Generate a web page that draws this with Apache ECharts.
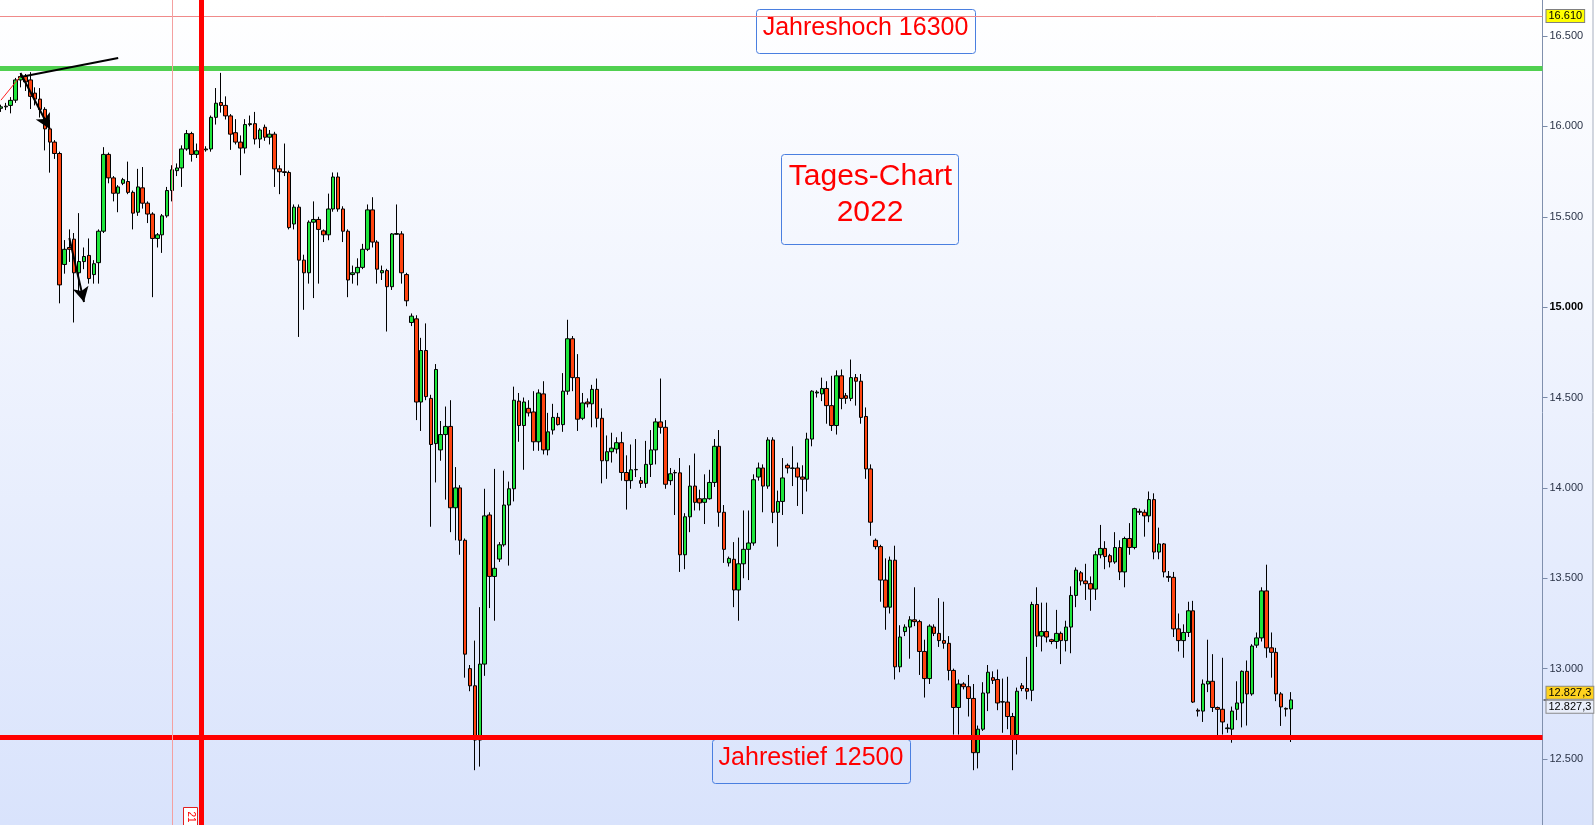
<!DOCTYPE html>
<html><head><meta charset="utf-8">
<script src="https://cdn.jsdelivr.net/npm/echarts@6/dist/echarts.min.js"></script>
<style>html,body{margin:0;padding:0;background:#fff}#c{width:1595px;height:825px}</style>
</head><body><div id="c"></div>
<script>
// ---- data (daily candles) ----
const openVals = [16100,16108,16116,16145,16257,16276,16257,16184,16151,16094,
15986,15913,15850,15236,15330,15376,15190,15252,15286,15180,
15246,15420,15845,15715,15630,15685,15695,15635,15525,15660,
15575,15515,15380,15400,15505,15645,15755,15770,15875,15960,
15845,15865,15870,15875,16050,16132,16116,16058,15965,15913,
15880,16010,16015,15930,15995,15940,15957,15765,15749,15745,
15460,15553,15260,15190,15470,15485,15422,15400,15543,15720,
15543,15420,15180,15190,15220,15320,15538,15360,15190,15202,
15113,15403,15405,15180,14915,14935,14475,14760,14495,14245,
14210,14295,14340,13890,14000,13710,13000,12905,12605,13025,
13850,13510,13606,13685,13905,13995,14480,14345,14440,14420,
14255,14520,14210,14320,14390,14350,14535,14825,14610,14385,
14475,14465,14545,14385,14150,14200,14215,14250,14085,14040,
14100,14040,14025,14130,14210,14365,14335,14040,14083,14083,
13630,13840,14010,13940,13920,13940,14030,14230,13865,13585,
13605,13435,13580,13660,13695,14060,14110,14010,14265,13865,
13925,14125,14108,14110,14060,14048,14270,14525,14520,14550,
14455,14345,14620,14510,14495,14610,14590,14395,14105,13710,
13675,13490,13340,13600,13010,13205,13230,13270,13260,13095,
12945,13230,13195,13155,13140,12990,12785,12915,12900,12835,
12535,12665,12865,12950,12940,12815,12815,12735,12635,12905,
12890,12880,13355,13180,13205,13160,13150,13195,13155,13230,
13405,13530,13485,13470,13440,13630,13665,13625,13590,13670,
13535,13720,13670,13870,13865,13845,13935,13645,13690,13510,
13505,13220,13155,13200,13320,12770,12765,12915,12930,12785,
12775,12668,12665,12775,12810,12985,12860,13130,13170,13430,
13115,13090,12860,12780,12777];
const closeVals = [16108,16112,16144,16257,16276,16246,16166,16151,16094,15986,
15913,15850,15123,15320,15320,15190,15252,15280,15158,15240,
15420,15845,15715,15630,15665,15705,15635,15520,15665,15575,
15515,15380,15400,15505,15645,15760,15770,15875,15960,15845,
15865,15870,15875,16050,16128,16116,16058,15957,15913,15880,
16010,16015,15930,15980,15940,15957,15765,15749,15745,15440,
15553,15260,15190,15470,15485,15430,15400,15543,15720,15543,
15420,15150,15190,15220,15320,15538,15360,15210,15202,15113,
15405,15407,15190,15035,14950,14475,14760,14505,14240,14655,
14295,14340,13890,14000,13710,13080,12905,12605,13025,13845,
13510,13555,13685,13905,13995,14485,14345,14475,14415,14255,
14525,14210,14310,14390,14350,14535,14825,14610,14380,14470,
14465,14545,14385,14150,14200,14220,14250,14085,14040,14100,
14102,14025,14130,14210,14365,14335,14020,14078,14085,13630,
13840,14010,13920,13917,13940,14030,14230,13865,13660,13610,
13435,13580,13660,13695,14045,14110,14010,14265,13865,13925,
14055,14110,14110,14060,14048,14270,14535,14530,14550,14455,
14345,14620,14495,14495,14610,14590,14390,14105,13810,13675,
13490,13340,13600,13010,13175,13230,13270,13260,13095,12945,
13235,13195,13155,13140,12990,12785,12915,12900,12835,12535,
12665,12865,12980,12935,12810,12817,12735,12620,12875,12890,
12875,13355,13180,13205,13175,13150,13195,13155,13230,13405,
13545,13485,13470,13440,13630,13665,13620,13590,13670,13535,
13720,13670,13885,13865,13845,13935,13645,13690,13535,13505,
13220,13155,13200,13320,12815,12765,12915,12930,12785,12775,
12705,12672,12765,12810,12985,12860,13125,13170,13430,13115,
13090,12860,12788,12776,12827];
const lowVals = [16080,16090,16072,16130,16216,16196,16096,16116,16049,15867,
15744,15820,15021,15185,15250,14915,15085,15210,15130,15130,
15130,15410,15685,15585,15525,15675,15625,15430,15505,15545,
15465,15055,15330,15300,15495,15585,15725,15665,15865,15805,
15825,15845,15860,15860,16010,16076,16038,15870,15900,15730,
15850,16000,15900,15880,15920,15900,15665,15625,15725,15430,
15430,14835,14985,15130,15050,15130,15360,15370,15528,15528,
15360,15055,15130,15120,15210,15310,15330,15130,15150,14865,
15095,15400,15130,15005,14895,14375,14315,14485,13785,14030,
14150,13935,13755,13710,13630,12950,12875,12438,12458,12960,
13335,13265,13590,13675,13570,13925,14255,14100,14395,14205,
14205,14185,14180,14295,14345,14310,14515,14535,14315,14375,
14445,14335,14335,14025,14050,14140,14190,14040,13880,13995,
14060,14000,14000,14060,14130,14300,13995,14015,13850,13535,
13550,13755,13875,13875,13800,13935,14005,13785,13585,13565,
13340,13265,13500,13490,13680,14040,13865,13995,13805,13675,
13850,14080,14010,13900,13855,13980,14230,14500,14480,14355,
14315,14295,14435,14465,14480,14455,14355,14050,13735,13660,
13370,13215,13305,12940,12980,13180,13055,13235,12965,12840,
12915,13180,13120,13110,12935,12635,12635,12885,12735,12438,
12448,12655,12765,12915,12770,12645,12665,12438,12525,12875,
12830,12820,13120,13095,13145,13135,13110,13025,13095,13085,
13340,13460,13380,13320,13380,13610,13550,13560,13580,13490,
13450,13630,13660,13850,13730,13810,13605,13605,13505,13480,
13175,13095,13060,13175,12810,12735,12705,12870,12760,12620,
12635,12645,12590,12715,12675,12685,12850,13115,13150,13060,
12950,12820,12683,12735,12594];
const highVals = [16120,16130,16162,16268,16295,16290,16300,16216,16212,16106,
16036,15924,15860,15371,15430,15410,15520,15330,15380,15260,
15430,15885,15855,15725,15675,15715,15805,15645,15765,15775,
15585,15525,15410,15515,15665,15785,15795,15895,15980,15970,
15905,15890,15890,16060,16212,16296,16166,16068,16040,15950,
16040,16060,16080,15990,16010,15980,15970,15785,15905,15755,
15568,15568,15290,15480,15585,15500,15430,15628,15745,15745,
15558,15430,15230,15270,15350,15568,15608,15370,15230,15212,
15410,15568,15420,15190,14965,14955,14830,14910,14515,14685,
14370,14450,14485,14115,14015,13720,13020,13155,13340,13995,
13865,14105,13700,14095,14035,14560,14525,14500,14485,14535,
14545,14590,14415,14465,14415,14635,14930,14840,14740,14525,
14495,14570,14605,14440,14290,14305,14280,14310,14180,14240,
14270,14060,14260,14320,14385,14605,14375,14110,14100,14165,
13860,14125,14190,13990,14075,14100,14270,14320,13905,13620,
13700,13725,13875,13875,14075,14140,14130,14280,14280,13985,
14165,14135,14230,14140,14125,14305,14540,14540,14610,14590,
14620,14650,14655,14525,14710,14630,14630,14445,14130,13720,
13685,13610,13620,13680,13240,13245,13290,13450,13270,13160,
13245,13245,13390,13370,13180,13000,12940,12925,12965,12915,
12685,12925,13020,12985,12995,12945,12955,12755,12895,12920,
13065,13370,13450,13365,13365,13165,13325,13205,13265,13455,
13560,13540,13580,13510,13650,13795,13705,13635,13755,13710,
13730,13805,13890,13885,13880,13980,13970,13780,13695,13540,
13535,13305,13245,13370,13375,12780,12940,13160,13080,12790,
13060,12695,12790,12930,12990,13045,13135,13200,13450,13575,
13200,13115,12870,12785,12870];
// levels and tick labels
const yearHighLine = 16320, yearLowLine = 12620, topLine = 16610, lastPrice = 12827.3;
const yTicks = [12500,13000,13500,14000,14500,15000,15500,16000,16500];
const slots = 316; // candle slots across the plot width
const categories = Array.from({length: slots}, (_, i) => String(i + 1));
const candleData = openVals.map((o, i) => [o, closeVals[i], lowVals[i], highVals[i]]);

function fmt(v){ const t = Math.floor(v/1000), r = Math.round(v % 1000); return t + '.' + String(r).padStart(3,'0'); }

const chart = echarts.init(document.getElementById('c'), null, {renderer:'canvas'});
const FONT = '"Liberation Sans", Arial, sans-serif';
chart.setOption({
  animation: false,
  backgroundColor: new echarts.graphic.LinearGradient(0,0,0,1,[{offset:0,color:'#ffffff'},{offset:1,color:'#d9e3fc'}]),
  grid: {left: -1.5, right: 52.5, top: -54.375, bottom: -24.375, containLabel: false, outerBoundsMode: 'none'},
  xAxis: {type:'category', data: categories, boundaryGap: true, axisLine:{show:false}, axisTick:{show:false}, axisLabel:{show:false}, splitLine:{show:false}},
  yAxis: {type:'value', position:'right', min:12000, max:17000, interval:500, scale:true,
    axisLine:{show:true, lineStyle:{color:'#8090ad', width:1}},
    axisTick:{show:true, length:5, lineStyle:{color:'#7a8aa8'}},
    splitLine:{show:false},
    axisLabel:{show:true, margin:7, color:'#2a3347', fontSize:11, fontFamily:FONT,
      showMinLabel:false, showMaxLabel:false,
      formatter: v => (yTicks.indexOf(v) < 0 ? '' : (v === 15000 ? '{b|' + fmt(v) + '}' : fmt(v))),
      rich:{b:{fontWeight:'bold', color:'#000', fontSize:11, fontFamily:FONT}}}
  },
  series: [{
    type:'candlestick', data: candleData, barWidth: 4,
    itemStyle:{color:'#1ee63c', color0:'#ff4410', borderColor:'#000', borderColor0:'#000', borderWidth:1},
    markLine: {
      silent:true, symbol:['none','none'], animation:false,
      label:{show:false},
      data: [
        {yAxis: topLine, lineStyle:{color:'#f08a8a', width:1, type:'solid'},
          label:{show:true, position:'end', distance:4, formatter: fmt(topLine), backgroundColor:'#ffff00', borderColor:'#808080', borderWidth:1, padding:[1,2,0,2], color:'#000', fontSize:11, fontFamily:FONT}},
        {yAxis: yearHighLine, lineStyle:{color:'#50d050', width:5, type:'solid'}},
        {yAxis: yearLowLine, lineStyle:{color:'#ff0000', width:5, type:'solid'}},
        {xAxis: 35, lineStyle:{color:'#f4a0a0', width:1, type:'solid'}},
        {xAxis: 41, lineStyle:{color:'#ff0000', width:5, type:'solid'}},
        {yAxis: lastPrice, lineStyle:{color:'rgba(0,0,0,0)', width:1, type:'solid'},
          label:{show:true, position:'end', distance:4, color:'#000', formatter:'{a|12.827,3}\n{b|12.827,3}',
            rich:{a:{backgroundColor:'#ffd21e', borderColor:'#8a8a8a', borderWidth:1, padding:[1,2,0,2], color:'#000', fontSize:11, fontFamily:FONT, lineHeight:14},
                  b:{backgroundColor:'#e9eefa', borderColor:'#8a8a8a', borderWidth:1, padding:[1,2,0,2], color:'#000', fontSize:11, fontFamily:FONT, lineHeight:14}}}},
        [{coord:[0,16145], lineStyle:{color:'#ff2020', width:1, type:'solid'}}, {coord:[4,16278]}],
        [{coord:[4,16273], lineStyle:{color:'#000', width:2, type:'solid'}}, {coord:[24,16378]}],
        [{coord:[4,16295], lineStyle:{color:'#000', width:2, type:'solid'}}, {coord:[10,15985], symbol:'arrow', symbolSize:[12,15]}],
        [{coord:[14,15382], lineStyle:{color:'#000', width:2, type:'solid'}}, {coord:[17,15028], symbol:'arrow', symbolSize:[12,15]}]
      ]
    }
  }],
  graphic: [
    {type:'rect', shape:{x:756.5, y:9.5, width:219, height:44, r:3}, style:{fill:'none', stroke:'#4a7fe0', lineWidth:1}},
    {type:'text', x:865.5, y:28, style:{text:'Jahreshoch 16300', fill:'#ff0000', font:'25px "Liberation Sans", Arial', textAlign:'center', textVerticalAlign:'middle'}},
    {type:'rect', shape:{x:781.5, y:154.5, width:177, height:90, r:3}, style:{fill:'none', stroke:'#4a7fe0', lineWidth:1}},
    {type:'text', x:870.5, y:177, style:{text:'Tages-Chart', fill:'#ff0000', font:'30px "Liberation Sans", Arial', textAlign:'center', textVerticalAlign:'middle'}},
    {type:'text', x:870, y:213, style:{text:'2022', fill:'#ff0000', font:'30px "Liberation Sans", Arial', textAlign:'center', textVerticalAlign:'middle'}},
    {type:'rect', shape:{x:712.5, y:739.5, width:198, height:44, r:3}, style:{fill:'none', stroke:'#4a7fe0', lineWidth:1}},
    {type:'text', x:811, y:758, style:{text:'Jahrestief 12500', fill:'#ff0000', font:'25px "Liberation Sans", Arial', textAlign:'center', textVerticalAlign:'middle'}},
    {type:'rect', shape:{x:183.5, y:807.5, width:14, height:20}, style:{fill:'#ffffff', stroke:'#e02020', lineWidth:1}},
    {type:'text', x:191, y:817, rotation:-Math.PI/2, style:{text:'21', fill:'#ff0000', font:'10px "Liberation Sans", Arial', textAlign:'center', textVerticalAlign:'middle'}},
    {type:'line', shape:{x1:1543.5, y1:700, x2:1548, y2:700}, style:{stroke:'#000', lineWidth:1}},
    {type:'rect', shape:{x:1593, y:0, width:2, height:825}, style:{fill:'#ffffff', stroke:'none'}},
    {type:'line', shape:{x1:1593, y1:0, x2:1593, y2:825}, style:{stroke:'#a8b0c0', lineWidth:1}}
  ]
});
</script></body></html>
